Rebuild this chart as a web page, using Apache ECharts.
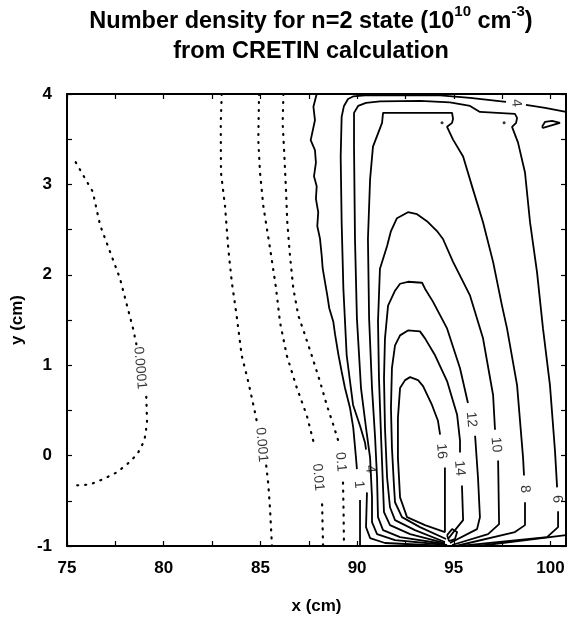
<!DOCTYPE html>
<html>
<head>
<meta charset="utf-8">
<script src="https://cdn.jsdelivr.net/npm/echarts@6/dist/echarts.min.js"></script>
<style>
html,body{margin:0;padding:0;background:#fff;}
#chart{width:574px;height:620px;}
</style>
</head>
<body>
<div id="chart"></div>
<script>
// ---- axis ticks ----
const xTicks = [75, 80, 85, 90, 95, 100];
const xMinorTicks = [75, 77.5, 80, 82.5, 85, 87.5, 90, 92.5, 95, 97.5, 100];
const yTicks = [-1, 0, 1, 2, 3, 4];
const yMinorTicks = [-1, -0.5, 0, 0.5, 1, 1.5, 2, 2.5, 3, 3.5, 4];

// ---- contour lines (x cm, y cm), each level = list of polyline segments ----
const c0001 = [
  [[75.45,3.245],[75.84,3.10],[76.33,2.92],[76.71,2.55],[77.74,1.96],[78.41,1.41],[78.6,1.22]],
  [[79.10,0.65],[79.14,0.36],[79.0,0.165],[78.63,0.014],[78.09,-0.10],[77.53,-0.19],[76.88,-0.26],[76.19,-0.32],[75.41,-0.33]]
];
const c001 = [
  [[83.0,4.0],[82.95,3.68],[82.96,3.13],[83.17,2.76],[83.34,2.29],[83.52,1.92],[83.77,1.55],[84.03,1.11],[84.37,0.82],[84.76,0.44],[84.85,0.33]],
  [[85.30,-0.11],[85.41,-0.32],[85.50,-0.60],[85.58,-0.93],[85.60,-1.0]]
];
const c01 = [
  [[84.93,4.0],[84.89,3.49],[84.98,3.13],[85.15,2.76],[85.50,2.29],[85.81,1.85],[86.01,1.48],[86.36,1.11],[86.88,0.75],[87.39,0.45],[87.82,0.09]],
  [[88.19,-0.54],[88.24,-1.0]]
];
const c1dot = [
  [[86.19,4.0],[86.15,3.68],[86.24,3.31],[86.32,2.95],[86.39,2.58],[86.53,2.21],[86.70,1.85],[86.96,1.55],[87.31,1.33],[87.65,1.11],[88.08,0.82],[88.43,0.56],[88.77,0.34],[89.03,0.16]],
  [[89.27,-0.30],[89.30,-0.63],[89.32,-1.0]]
];
const c1 = [
  [[87.91,4.0],[87.74,3.86],[87.82,3.71],[87.60,3.49],[87.82,3.38],[87.87,3.24],[87.77,3.09],[87.91,2.98],[87.87,2.84],[87.99,2.69],[87.94,2.54],[88.08,2.40],[88.17,2.21],[88.22,2.07],[88.34,1.92],[88.46,1.77],[88.56,1.63],[88.77,1.48],[88.86,1.34],[89.03,1.12],[89.20,0.93],[89.37,0.75],[89.63,0.53],[89.80,0.31],[89.94,-0.02],[89.99,-0.15]],
  [[90.15,-0.49],[90.15,-1.0]]
];
const c4 = [
  [[94.65,-1.0],[91.44,-0.967],[90.67,-0.912],[90.46,-0.791],[90.51,-0.407]],
  [[90.46,0.066],[90.41,0.143],[90.15,0.330],[89.79,0.560],[89.46,1.110],[89.29,1.846],[89.20,2.582],[89.15,3.308],[89.20,3.747],[89.32,3.868],[89.53,3.945],[89.79,3.973],[90.41,3.984],[94.29,3.984],[95.84,3.956],[97.70,3.912]],
  [[98.73,3.879],[99.72,3.846],[100.8,3.802]],
  [[100.8,-0.879],[96.25,-1.0]]
];
const c6 = [
  [[94.65,-0.989],[91.96,-0.934],[91.03,-0.868],[90.77,-0.736],[90.77,-0.462],[90.67,-0.022],[90.46,0.308],[90.20,0.747],[89.99,1.516],[89.89,2.396],[89.84,3.418],[89.84,3.791],[90.05,3.868],[90.46,3.901],[91.18,3.918],[93.25,3.923],[94.80,3.907],[95.84,3.868],[96.35,3.802],[98.16,3.780],[98.27,3.736],[98.22,3.681],[98.01,3.637],[98.32,3.462],[98.68,3.132],[98.94,2.582],[99.30,2.033],[99.61,1.407],[99.97,0.780],[100.23,0.055],[100.34,-0.352]],
  [[100.39,-0.615],[100.39,-0.791],[99.82,-0.901],[95.32,-1.0]],
  [[99.56,3.637],[99.72,3.692],[100.08,3.703],[100.49,3.681],[99.61,3.626],[99.56,3.637]]
];
const c8 = [
  [[94.54,-0.978],[92.22,-0.901],[91.34,-0.824],[91.08,-0.681],[91.03,-0.242],[90.93,0.198],[90.77,0.747],[90.62,1.516],[90.56,2.396],[90.67,3.055],[90.82,3.418],[91.29,3.681],[91.34,3.791],[94.91,3.791],[94.96,3.725],[94.91,3.681],[94.65,3.637],[94.96,3.495],[95.48,3.308],[95.99,2.945],[96.51,2.582],[97.03,2.143],[97.49,1.659],[97.75,1.407],[98.27,0.780],[98.58,-0.022],[98.63,-0.220]],
  [[98.68,-0.516],[98.68,-0.769],[98.16,-0.846],[95.11,-1.0]]
];
const c10 = [
  [[94.54,-0.967],[92.74,-0.868],[91.70,-0.769],[91.39,-0.626],[91.34,-0.352],[91.24,0.198],[91.13,0.857],[91.08,1.484],[91.18,2.066],[91.55,2.319],[91.75,2.484],[92.06,2.626],[92.63,2.692],[93.10,2.670],[93.61,2.593],[94.13,2.484],[94.44,2.396],[94.96,2.143],[95.84,1.769],[96.51,1.297],[97.03,0.670],[97.13,0.286]],
  [[97.29,-0.055],[97.34,-0.758],[96.77,-0.868],[94.91,-0.989]]
];
const c12 = [
  [[94.54,-0.956],[92.99,-0.824],[91.96,-0.714],[91.70,-0.571],[91.55,-0.242],[91.44,0.308],[91.39,0.857],[91.44,1.297],[91.60,1.659],[91.96,1.824],[92.22,1.901],[92.63,1.923],[93.36,1.912],[93.51,1.846],[93.92,1.703],[94.65,1.407],[95.32,0.967],[95.73,0.582]],
  [[96.10,0.220],[96.25,-0.242],[96.35,-0.681],[96.20,-0.813],[94.80,-0.967]]
];
const c14 = [
  [[94.60,-0.923],[93.25,-0.791],[92.32,-0.681],[91.96,-0.516],[91.91,-0.352],[91.80,0.088],[91.75,0.527],[91.80,0.967],[91.96,1.220],[92.22,1.330],[92.63,1.385],[93.25,1.374],[93.51,1.297],[94.03,1.110],[94.65,0.824],[95.17,0.451],[95.32,0.165],[95.32,0.033]],
  [[95.42,-0.330],[95.48,-0.714],[95.06,-0.824],[94.70,-0.923]]
];
const c16 = [
  [[94.29,0.231],[94.18,0.385],[93.87,0.560],[93.41,0.769],[93.15,0.835],[92.74,0.868],[92.48,0.835],[92.22,0.747],[92.11,0.418],[92.11,-0.022],[92.22,-0.462],[92.58,-0.681],[93.51,-0.769],[94.54,-0.846],[94.54,-0.132]],
  [[94.65,-0.879],[94.91,-0.813],[95.17,-0.846],[95.06,-0.923],[94.75,-0.945],[94.65,-0.879]]
];
const isolatedDots = [[94.39,3.681],[97.60,3.681]];

// contour labels: x, y, text
const contourLabels = [
  [78.77, 0.97, '0.0001'],
  [85.06, 0.12, '0.001'],
  [87.98, -0.24, '0.01'],
  [89.15, -0.07, '0.1'],
  [90.10, -0.32, '1'],
  [90.67, -0.15, '4'],
  [98.22, 3.90, '4'],
  [100.34, -0.48, '6'],
  [98.68, -0.37, '8'],
  [97.18, 0.12, '10'],
  [95.90, 0.40, '12'],
  [95.30, -0.14, '14'],
  [94.36, 0.05, '16']
];

// ---- build series ----
const solidStyle = {color:'#000', width:1.8};
const dotStyle = {color:'#000', width:2.2, type:[1, 7], cap:'round'};
const series = [];
function addLevel(segs, style){
  segs.forEach(seg => series.push({
    type:'line', data:seg, symbol:'none', showSymbol:false, silent:true,
    animation:false, lineStyle:style, xAxisIndex:0, yAxisIndex:0, z:3
  }));
}
addLevel(c0001, dotStyle);
addLevel(c001, dotStyle);
addLevel(c01, dotStyle);
addLevel(c1dot, dotStyle);
[c1, c4, c6, c8, c10, c12, c14, c16].forEach(s => addLevel(s, solidStyle));
series.push({
  type:'scatter', data:isolatedDots, symbolSize:3, silent:true, animation:false,
  itemStyle:{color:'#000'}, z:4
});
series.push({
  type:'scatter', silent:true, animation:false, symbolSize:2, z:5,
  itemStyle:{color:'rgba(0,0,0,0)'},
  data: contourLabels.map(l => ({value:[l[0], l[1]], name:l[2]})),
  label:{show:true, position:'inside', rotate:-85, formatter:p => p.name,
    color:'#000', fontSize:14, fontFamily:'Liberation Sans, Arial, sans-serif'},
  labelLayout:{hideOverlap:false}
});

const axisFont = {color:'#000', fontSize:17, fontWeight:'bold', fontFamily:'Liberation Sans, Arial, sans-serif'};
const lineBlack = {show:true, onZero:false, lineStyle:{color:'#000', width:2}};

const option = {
  backgroundColor:'#fff',
  animation:false,
  title:{
    left:311, top:4, textAlign:'center', padding:0,
    text:'{a|Number density for n=2 state (10}{s|10}{a| cm}{s|-3}{a|)}\n{a|from CRETIN calculation}',
    textStyle:{
      rich:{
        a:{fontSize:23.5, fontWeight:'bold', color:'#000', fontFamily:'Liberation Sans, Arial, sans-serif', lineHeight:30, verticalAlign:'bottom'},
        s:{fontSize:15, fontWeight:'bold', color:'#000', fontFamily:'Liberation Sans, Arial, sans-serif', lineHeight:16, verticalAlign:'top'}
      }
    }
  },
  grid:{left:67, right:8, top:94, bottom:71, containLabel:false},
  xAxis:[
    {type:'value', min:75, max:100.8, interval:5, position:'bottom',
     name:'x (cm)', nameLocation:'middle', nameGap:52, nameTextStyle:axisFont,
     axisLine:lineBlack,
     axisTick:{show:true, inside:true, length:5, lineStyle:{color:'#000', width:1.2}, customValues:xMinorTicks},
     axisLabel:{show:true, margin:14, customValues:xTicks, ...axisFont},
     splitLine:{show:false}},
    {type:'value', min:75, max:100.8, interval:5, position:'top',
     axisLine:lineBlack,
     axisTick:{show:true, inside:true, length:5, lineStyle:{color:'#000', width:1.2}, customValues:xMinorTicks},
     axisLabel:{show:false}, splitLine:{show:false}}
  ],
  yAxis:[
    {type:'value', min:-1, max:4, interval:1, position:'left',
     name:'y (cm)', nameLocation:'middle', nameGap:32, nameTextStyle:axisFont,
     axisLine:lineBlack,
     axisTick:{show:true, inside:true, length:5, lineStyle:{color:'#000', width:1.2}, customValues:yMinorTicks},
     axisLabel:{show:true, margin:15, customValues:yTicks, ...axisFont},
     splitLine:{show:false}},
    {type:'value', min:-1, max:4, interval:1, position:'right',
     axisLine:lineBlack,
     axisTick:{show:true, inside:true, length:5, lineStyle:{color:'#000', width:1.2}, customValues:yMinorTicks},
     axisLabel:{show:false}, splitLine:{show:false}}
  ],
  series: series
};
const chart = echarts.init(document.getElementById('chart'), null, {renderer:'canvas'});
chart.setOption(option);
</script>
</body>
</html>
